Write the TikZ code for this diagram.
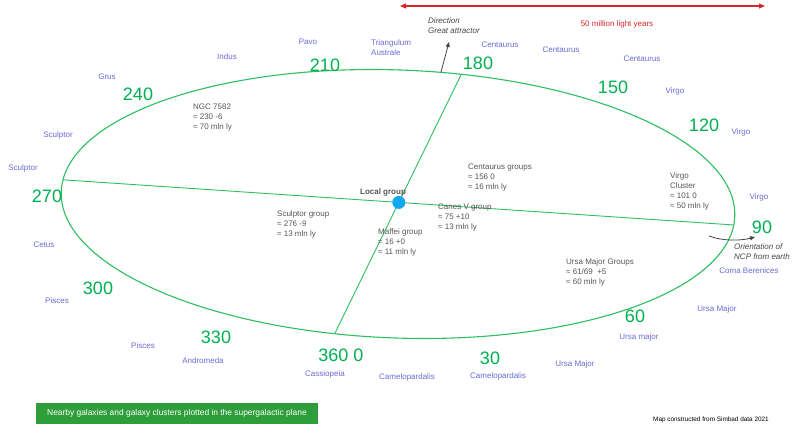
\documentclass[tikz,border=0pt]{standalone}
\usepackage{fontspec}
\setmainfont{Liberation Sans}
\usetikzlibrary{arrows.meta,calc}
\definecolor{ellgreen}{HTML}{2DBE5F}
\definecolor{numgreen}{HTML}{00B050}
\definecolor{conblue}{HTML}{6A6AD6}
\definecolor{txtgray}{HTML}{555555}
\definecolor{notegray}{HTML}{444444}
\definecolor{scalered}{HTML}{D9262B}
\definecolor{dotblue}{HTML}{12A9F0}
\definecolor{boxgreen}{HTML}{2E9E3A}
\begin{document}
\begin{tikzpicture}[x=1pt,y=-1pt,
  ell/.style={draw=ellgreen, line width=1.1pt},
  axis/.style={draw=ellgreen, line width=0.9pt},
  num/.style={text=numgreen, font=\fontsize{18}{18}\selectfont, inner sep=0pt, text height=12.9pt, text depth=0pt},
  con/.style={text=conblue, font=\fontsize{8}{10}\selectfont, inner sep=0pt, text height=5.8pt, text depth=0pt},
  con2/.style={text=conblue, font=\fontsize{8}{10}\selectfont, inner sep=0pt, align=left, anchor=west},
  info/.style={text=txtgray, font=\fontsize{8}{10}\selectfont, inner sep=0pt, align=left, anchor=west},
  note/.style={text=notegray, font=\fontsize{8}{10}\selectfont\itshape, inner sep=0pt, align=left, anchor=west},
  tip/.style={-{Triangle[length=5pt,width=4pt]}},
]
\useasboundingbox (0,0) rectangle (800,431);

% ellipse and axes
\begin{scope}[shift={(398,204)}, rotate=-2.1]
  \draw[ell] (0,0) ellipse [x radius=337, y radius=134];
  \coordinate (eW) at (185.1:337 and 134);
  \coordinate (eE) at (3.7:337 and 134);
  \coordinate (eN) at (280:337 and 134);
  \coordinate (eS) at (100:337 and 134);
\end{scope}
\draw[axis] (eW) -- (eE);
\draw[axis] (eN) -- (eS);
\node[circle, fill=dotblue, minimum size=13pt, inner sep=0pt] (lg) at (intersection of eW--eE and eN--eS) {};
\node[text=txtgray, font=\fontsize{8}{10}\selectfont\bfseries, inner sep=0pt, text height=5.8pt, text depth=0pt] (lgt) at (383,192) {Local group};

% scale bar
\coordinate (sL) at (400,6);
\coordinate (sR) at (765,6);
\draw[scalered, line width=1.2pt, {Triangle[length=6pt,width=5pt]}-{Triangle[length=6pt,width=5pt]}] (sL) -- (sR);
\node[text=scalered, font=\fontsize{8}{10}\selectfont, inner sep=0pt, text height=5.8pt, text depth=0pt] (slab) at (617,24) {50 million light years};

% great attractor
\node[note] (ga) at (428,26) {Direction\\Great attractor};
\coordinate (gaS) at (441,72);
\coordinate (gaE) at (449,42);
\draw[notegray, line width=0.8pt, tip] (gaS) -- (gaE);

% NCP
\node[note] (ncp) at (734,252) {Orientation of\\NCP from earth};
\coordinate (ncpS) at (709,236);
\coordinate (ncpE) at (755,237);
\draw[notegray, line width=0.8pt, tip] (ncpS) .. controls (722,241) and (740,241) .. (ncpE);

% green numbers
\node[num] (n240) at (138,94) {240};
\node[num] (n210) at (325,65) {210};
\node[num] (n180) at (478,63) {180};
\node[num] (n150) at (613,87) {150};
\node[num] (n120) at (704,125) {120};
\node[num] (n90) at (762,227) {90};
\node[num] (n60) at (635,316) {60};
\node[num] (n30) at (490,358) {30};
\node[num] (n360) at (341,355) {360 0};
\node[num] (n330) at (216,337) {330};
\node[num] (n300) at (98,288) {300};
\node[num] (n270) at (47,196) {270};

% constellations
\node[con2] (cTA) at (371,47.7) {Triangulum\\Australe};
\node[con] (cCen1) at (500,45) {Centaurus};
\node[con] (cCen2) at (561,50) {Centaurus};
\node[con] (cCen3) at (642,59) {Centaurus};
\node[con] (cPav) at (308,42) {Pavo};
\node[con] (cInd) at (227,57) {Indus};
\node[con] (cGru) at (107,77) {Grus};
\node[con] (cScl1) at (58,135) {Sculptor};
\node[con] (cScl2) at (23,168) {Sculptor};
\node[con] (cCet) at (44,245) {Cetus};
\node[con] (cPsc1) at (57,301) {Pisces};
\node[con] (cPsc2) at (143,346) {Pisces};
\node[con] (cAnd) at (203,361) {Andromeda};
\node[con] (cCas) at (325,374) {Cassiopeia};
\node[con] (cCam1) at (407,377) {Camelopardalis};
\node[con] (cCam2) at (498,376) {Camelopardalis};
\node[con] (cUMa1) at (575,364) {Ursa Major};
\node[con] (cUMa2) at (639,337) {Ursa major};
\node[con] (cUMa3) at (717,309) {Ursa Major};
\node[con] (cCom) at (749,271) {Coma Berenices};
\node[con] (cVir1) at (759,197) {Virgo};
\node[con] (cVir2) at (741,132) {Virgo};
\node[con] (cVir3) at (675,91) {Virgo};

% groups
\node[info] (gNGC) at (193,118) {NGC 7582\\≈ 230 -6\\≈ 70 mln ly};
\node[info] (gCen) at (468,178) {Centaurus groups\\≈ 156 0\\≈ 16 mln ly};
\node[info] (gCVn) at (438,218) {Canes V group\\≈ 75 +10\\≈ 13 mln ly};
\node[info] (gScl) at (277,224) {Sculptor group\\≈ 276 -9\\≈ 13 mln ly};
\node[info] (gMaf) at (378,242) {Maffei group\\≈ 16 +0\\≈ 11 mln ly};
\node[info] (gVir) at (670,191) {Virgo\\Cluster\\≈ 101 0\\≈ 50 mln ly};
\node[info] (gUMa) at (566,272) {Ursa Major Groups\\≈ 61/69~ +5\\≈ 60 mln ly};

% footer
\node[fill=boxgreen, text=white, minimum width=282pt, minimum height=21pt, inner sep=0pt, font=\fontsize{8.4}{10}\selectfont] (title) at (177,413) {Nearby galaxies and galaxy clusters plotted in the supergalactic plane};
\node[text=black, font=\fontsize{6.4}{8}\selectfont, inner sep=0pt] (credit) at (711,420) {Map constructed from Simbad data 2021};
\end{tikzpicture}
\end{document}
